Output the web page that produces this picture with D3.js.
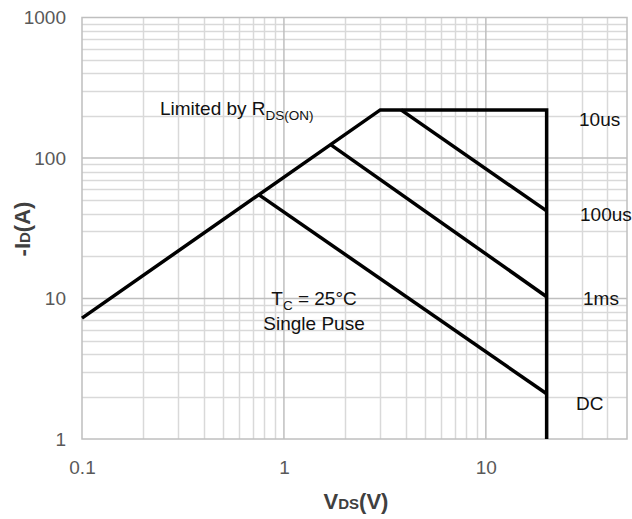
<!DOCTYPE html>
<html><head><meta charset="utf-8">
<script src="https://cdn.jsdelivr.net/npm/d3@7"></script>
<style>
html,body{margin:0;padding:0;background:#fff;}
svg{display:block;font-family:Arial,"Liberation Sans",sans-serif;}
</style></head>
<body><svg id="c" width="632" height="519"></svg>
<script>
// ---- data ----
const xTicks = [0.1, 1, 10];
const xTickLabels = ["0.1", "1", "10"];
const yTicks = [1, 10, 100, 1000];
const yTickLabels = ["1", "10", "100", "1000"];
// SOA boundary: RDS(on) limit -> current limit plateau -> VDS max
const limitV = [0.1, 3.0, 20, 20];
const limitI = [7.25, 220, 220, 1];
// pulse lines
const us10V = [3.8, 20];   const us10I = [220, 42];
const us100V = [1.71, 20]; const us100I = [124, 10.3];
const dcV = [0.753, 20];   const dcI = [54.6, 2.1];
const pulseLabels = ["10us", "100us", "1ms", "DC"];

// ---- layout ----
const svg = d3.select("#c");
const L = 82, R = 627, T = 17.5, B = 439;
const x = d3.scaleLog().domain([0.1, 50]).range([L, R]);
const y = d3.scaleLog().domain([1, 1000]).range([B, T]);

// minor grid
const minorX = [], minorY = [];
[0.1, 1, 10].forEach(d => { for (let k = 2; k <= 9; k++) { const v = d * k; if (v < 50) minorX.push(v); } });
[1, 10, 100].forEach(d => { for (let k = 2; k <= 9; k++) minorY.push(d * k); });

const g = svg.append("g");
g.selectAll(".mx").data(minorX).enter().append("line")
  .attr("x1", d => Math.round(x(d)) + 0.5).attr("x2", d => Math.round(x(d)) + 0.5)
  .attr("y1", T).attr("y2", B).attr("stroke", "#d9d9d9").attr("stroke-width", 1.5);
g.selectAll(".my").data(minorY).enter().append("line")
  .attr("y1", d => Math.round(y(d)) + 0.5).attr("y2", d => Math.round(y(d)) + 0.5)
  .attr("x1", L).attr("x2", R).attr("stroke", "#d9d9d9").attr("stroke-width", 1.5);
// major grid
g.selectAll(".Mx").data([1, 10]).enter().append("line")
  .attr("x1", d => x(d)).attr("x2", d => x(d))
  .attr("y1", T).attr("y2", B).attr("stroke", "#bfbfbf").attr("stroke-width", 1.5);
g.selectAll(".My").data([10, 100]).enter().append("line")
  .attr("y1", d => y(d)).attr("y2", d => y(d))
  .attr("x1", L).attr("x2", R).attr("stroke", "#bfbfbf").attr("stroke-width", 1.5);
// frame
g.append("rect").attr("x", L).attr("y", T).attr("width", R - L).attr("height", B - T)
  .attr("fill", "none").attr("stroke", "#bfbfbf").attr("stroke-width", 1.5);

// axes via d3 axis (ticks hidden, labels kept)
const xAxis = d3.axisBottom(x).tickValues(xTicks).tickFormat((d, i) => xTickLabels[i]).tickSize(0).tickPadding(22);
const ax = svg.append("g").attr("transform", `translate(0,${B})`).call(xAxis);
ax.select(".domain").remove();
ax.selectAll("text").attr("fill", "#595959").style("font-size", "19px").style("font-family", "Arial, 'Liberation Sans', sans-serif");
const yAxis = d3.axisLeft(y).tickValues(yTicks).tickFormat((d, i) => yTickLabels[i]).tickSize(0).tickPadding(16);
const ay = svg.append("g").attr("transform", `translate(${L},0)`).call(yAxis);
ay.select(".domain").remove();
ay.selectAll("text").attr("fill", "#595959").style("font-size", "19px").style("font-family", "Arial, 'Liberation Sans', sans-serif");

// lines
const line = d3.line().x(d => x(d[0])).y(d => y(d[1]));
const zip = (a, b) => a.map((v, i) => [v, b[i]]);
[[limitV, limitI], [us10V, us10I], [us100V, us100I], [dcV, dcI]].forEach(([vx, vy]) => {
  svg.append("path").attr("d", line(zip(vx, vy))).attr("fill", "none")
    .attr("stroke", "#000").attr("stroke-width", 3.5).attr("stroke-linejoin", "miter").attr("stroke-linecap", "butt");
});

// annotations
const ann = svg.append("g").attr("fill", "#111").style("font-size", "19px");
const t1 = ann.append("text").attr("x", 160).attr("y", 115);
t1.append("tspan").text("Limited by R");
t1.append("tspan").text("DS(ON)").attr("dy", 5).style("font-size", "13.5px");

const labelPos = [[579, 126], [580, 221], [583, 305], [576, 410]];
pulseLabels.forEach((s, i) => ann.append("text").attr("x", labelPos[i][0]).attr("y", labelPos[i][1]).text(s));

const t2 = ann.append("text").attr("x", 314).attr("y", 305).attr("text-anchor", "middle");
t2.append("tspan").text("T");
t2.append("tspan").text("C").attr("dy", 5).style("font-size", "13.5px");
t2.append("tspan").text(" = 25°C").attr("dy", -5);
ann.append("text").attr("x", 314).attr("y", 330).attr("text-anchor", "middle").text("Single Puse");

// axis titles
const xt = svg.append("text").attr("x", 356).attr("y", 509).attr("text-anchor", "middle")
  .attr("fill", "#404040").style("font-weight", "bold").style("font-size", "22px");
xt.append("tspan").text("V");
xt.append("tspan").text("DS").style("font-size", "15px");
xt.append("tspan").text("(V)");

const yt = svg.append("text").attr("transform", "translate(30,229) rotate(-90)").attr("text-anchor", "middle")
  .attr("fill", "#404040").style("font-weight", "bold").style("font-size", "22px");
yt.append("tspan").text("-I");
yt.append("tspan").text("D").style("font-size", "15px");
yt.append("tspan").text("(A)");
</script></body></html>
